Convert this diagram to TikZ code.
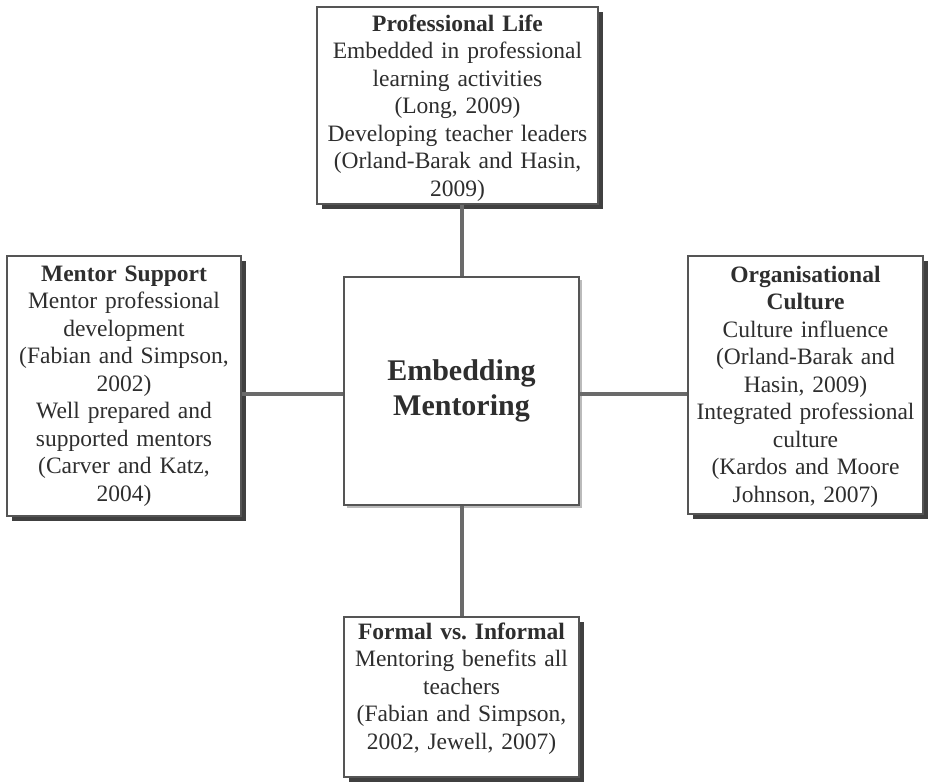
\documentclass[tikz,border=0pt]{standalone}
\usepackage{fontspec}
\setmainfont{Liberation Serif}
\usetikzlibrary{shadows}
\frenchspacing
\definecolor{boxgray}{HTML}{555555}
\definecolor{linegray}{HTML}{6A6A6A}
\definecolor{shadowgray}{HTML}{404040}
\definecolor{softshadow}{HTML}{BBBBBB}
\definecolor{textgray}{HTML}{2E2E2E}
\tikzset{
  box/.style={draw=boxgray, line width=1.4pt, fill=white, inner sep=0pt,
    drop shadow={shadow xshift=5pt, shadow yshift=-5pt, fill=shadowgray, opacity=1}},
  centrebox/.style={draw=boxgray, line width=1.4pt, fill=white, inner sep=0pt,
    drop shadow={shadow xshift=3pt, shadow yshift=-3pt, fill=softshadow, opacity=1}},
  txt/.style={text width=#1, align=center, inner sep=0pt, text=textgray,
    font=\fontsize{23.5}{27.5}\selectfont, anchor=base},
  link/.style={draw=linegray, line width=4pt}
}
\begin{document}
\begin{tikzpicture}[x=1pt,y=1pt]
\useasboundingbox (0,0) rectangle (928,781);
\fill[white] (0,0) rectangle (928,781);
% boxes
\node[box, minimum width=281pt, minimum height=197pt] (pl) at (457.5,675.5) {};
\node[centrebox, minimum width=235pt, minimum height=228pt] (c) at (461.5,390) {};
\node[box, minimum width=234pt, minimum height=260pt] (ms) at (124,395) {};
\node[box, minimum width=235pt, minimum height=258pt] (oc) at (805.5,396) {};
\node[box, minimum width=235pt, minimum height=160pt] (fi) at (461.5,84) {};
% connectors
\draw[link] (c.north) -- (c.north |- pl.south);
\draw[link] (c.south) -- (c.south |- fi.north);
\draw[link] ([yshift=-3pt]c.west) -- ([yshift=-3pt]c.west -| ms.east);
\draw[link] ([yshift=-3pt]c.east) -- ([yshift=-3pt]c.east -| oc.west);
% texts
\node[txt=275pt] (plt) at ([yshift=-25pt]pl.north)
  {\textbf{Professional Life}\\Embedded in professional\\learning activities\\(Long, 2009)\\Developing teacher leaders\\(Orland-Barak and Hasin,\\2009)};
\node[txt=228pt] (mst) at ([yshift=-26pt]ms.north)
  {\textbf{Mentor Support}\\Mentor professional\\development\\(Fabian and Simpson,\\2002)\\Well prepared and\\supported mentors\\(Carver and Katz,\\2004)};
\node[txt=229pt] (oct) at ([yshift=-27pt]oc.north)
  {\textbf{Organisational}\\\textbf{Culture}\\Culture influence\\(Orland-Barak and\\Hasin, 2009)\\Integrated professional\\culture\\(Kardos and Moore\\Johnson, 2007)};
\node[txt=229pt] (fit) at ([yshift=-23pt]fi.north)
  {\textbf{Formal vs. Informal}\\Mentoring benefits all\\teachers\\(Fabian and Simpson,\\2002, Jewell, 2007)};
\node[align=center, inner sep=0pt, text=textgray, font=\fontsize{30}{35}\selectfont\bfseries] (ct) at (c.center)
  {Embedding\\Mentoring};
\end{tikzpicture}
\end{document}
